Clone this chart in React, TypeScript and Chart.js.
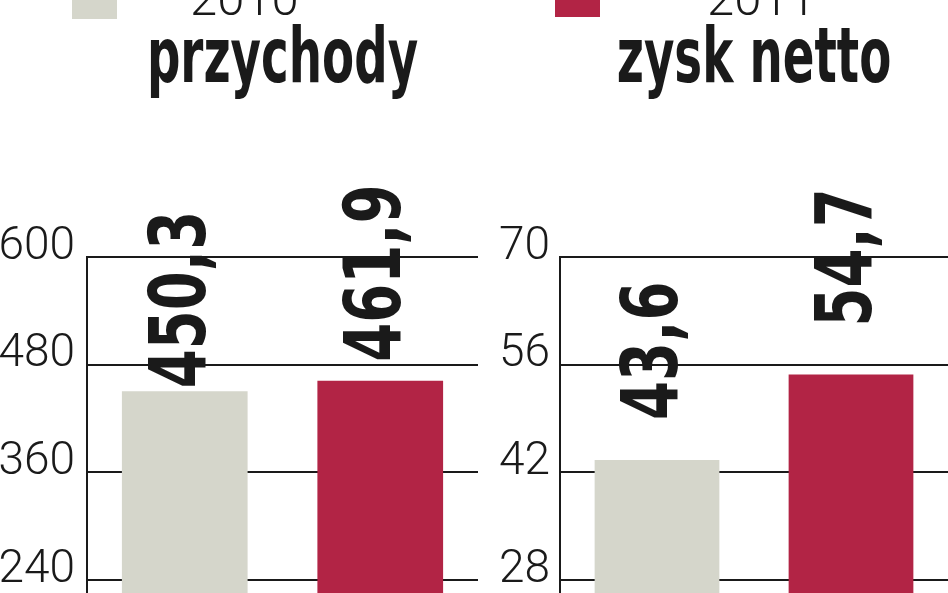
import React, { useEffect, useRef } from 'react';
import { Chart, registerables } from 'chart.js';

Chart.register(...registerables);

// ---- data ----
const years = ['2010', '2011'];
const yearColors = ['#d5d6cb', '#b22445'];
const panelTitles = ['przychody', 'zysk netto'];
const revenue = [450.3, 461.9];
const netProfit = [43.6, 54.7];
const revenueTicks = [0, 120, 240, 360, 480, 600];
const profitTicks = [0, 14, 28, 42, 56, 70];

// ---- styles ----
const TEXT = '#1a1a1a';
const BOLD_FAMILY = "'DejaVu Sans', sans-serif";
const LIGHT_FAMILY = "Roboto, 'DejaVu Sans', sans-serif";
const CANVAS_H = 830;

type PanelCfg = {
  title: string;
  values: number[];
  ticks: number[];
  legendIndex: number;
  width: number;
  left: number;
  axisWidth: number;
  tickPad: number;
  boxX: number;
  boxBottom: number;
  legendTextX: number;
  labelGaps: number[];
};

function fmt(v: number): string {
  return v.toFixed(1).replace('.', ',');
}

function makeDecorPlugin(cfg: PanelCfg) {
  return {
    id: 'panelDecor',
    afterDatasetsDraw(chart: any) {
      const ctx = chart.ctx as CanvasRenderingContext2D;
      chart.data.datasets.forEach((ds: any, i: number) => {
        const meta = chart.getDatasetMeta(i);
        meta.data.forEach((bar: any, j: number) => {
          const text = fmt(ds.data[j]);
          ctx.save();
          ctx.translate(bar.x - 8, bar.y - cfg.labelGaps[i]);
          ctx.rotate(-Math.PI / 2);
          ctx.scale(0.71, 1);
          ctx.font = `bold 79px ${BOLD_FAMILY}`;
          ctx.fillStyle = TEXT;
          ctx.textAlign = 'left';
          ctx.textBaseline = 'alphabetic';
          ctx.fillText(text, 0, 28);
          ctx.restore();
        });
      });
    },
    afterDraw(chart: any) {
      const ctx = chart.ctx as CanvasRenderingContext2D;
      const ds = chart.data.datasets[cfg.legendIndex];
      ctx.save();
      // legend box + label (partially cut by the top edge)
      ctx.fillStyle = ds.backgroundColor;
      ctx.fillRect(cfg.boxX, cfg.boxBottom - 46, 45, 46);
      ctx.fillStyle = TEXT;
      ctx.font = `300 49px ${LIGHT_FAMILY}`;
      ctx.textAlign = 'left';
      ctx.textBaseline = 'alphabetic';
      ctx.fillText(ds.label, cfg.legendTextX, 15);
      // panel title
      const { left, right } = chart.chartArea;
      ctx.translate((left + right) / 2, 82);
      ctx.scale(0.615, 1);
      ctx.font = `bold 76px ${BOLD_FAMILY}`;
      ctx.textAlign = 'center';
      ctx.fillText(cfg.title, 0, 0);
      ctx.restore();
    },
  };
}

function Panel({ cfg }: { cfg: PanelCfg }) {
  const ref = useRef<HTMLCanvasElement>(null);
  useEffect(() => {
    const tickVals = cfg.ticks;
    const chart = new Chart(ref.current as HTMLCanvasElement, {
      type: 'bar',
      data: {
        labels: [''],
        datasets: years.map((y, i) => ({
          label: y,
          data: [cfg.values[i]],
          backgroundColor: yearColors[i],
          borderWidth: 0,
          categoryPercentage: 1,
          barPercentage: 0.643,
        })),
      },
      options: {
        responsive: false,
        maintainAspectRatio: false,
        animation: false,
        layout: { padding: { top: 257, bottom: 35, left: 0, right: 0 } },
        plugins: {
          legend: { display: false },
          title: { display: false },
          tooltip: { enabled: false },
        },
        scales: {
          x: { type: 'category', display: false },
          y: {
            type: 'linear',
            min: tickVals[0],
            max: tickVals[tickVals.length - 1],
            afterBuildTicks: (scale: any) => {
              scale.ticks = tickVals.map((v) => ({ value: v }));
            },
            afterFit: (scale: any) => {
              scale.width = cfg.axisWidth;
            },
            ticks: {
              padding: cfg.tickPad,
              color: TEXT,
              font: { family: LIGHT_FAMILY, size: 46, weight: 300 as any, lineHeight: 0.42 },
              callback: (v: any) => [String(v), ''],
            },
            grid: { color: TEXT, lineWidth: 2, drawTicks: false, tickLength: 0 },
            border: { display: true, color: TEXT, width: 2 },
          },
        },
      },
      plugins: [makeDecorPlugin(cfg)],
    } as any);
    return () => chart.destroy();
  }, []);
  return (
    <canvas
      ref={ref}
      width={cfg.width}
      height={CANVAS_H}
      style={{ position: 'absolute', left: cfg.left, top: 0, display: 'block' }}
    />
  );
}

const leftPanel: PanelCfg = {
  title: panelTitles[0],
  values: revenue,
  ticks: revenueTicks,
  legendIndex: 0,
  width: 478,
  left: 0,
  axisWidth: 87,
  tickPad: 12,
  boxX: 72,
  boxBottom: 19,
  legendTextX: 190,
  labelGaps: [3, 19],
};

const rightPanel: PanelCfg = {
  title: panelTitles[1],
  values: netProfit,
  ticks: profitTicks,
  legendIndex: 1,
  width: 474,
  left: 474,
  axisWidth: 86,
  tickPad: 10,
  boxX: 81,
  boxBottom: 17,
  legendTextX: 233,
  labelGaps: [40, 48],
};

export default function App() {
  return (
    <div
      style={{
        position: 'absolute',
        left: 0,
        top: 0,
        width: 948,
        height: 593,
        overflow: 'hidden',
        background: '#ffffff',
      }}
    >
      <Panel cfg={leftPanel} />
      <Panel cfg={rightPanel} />
    </div>
  );
}
